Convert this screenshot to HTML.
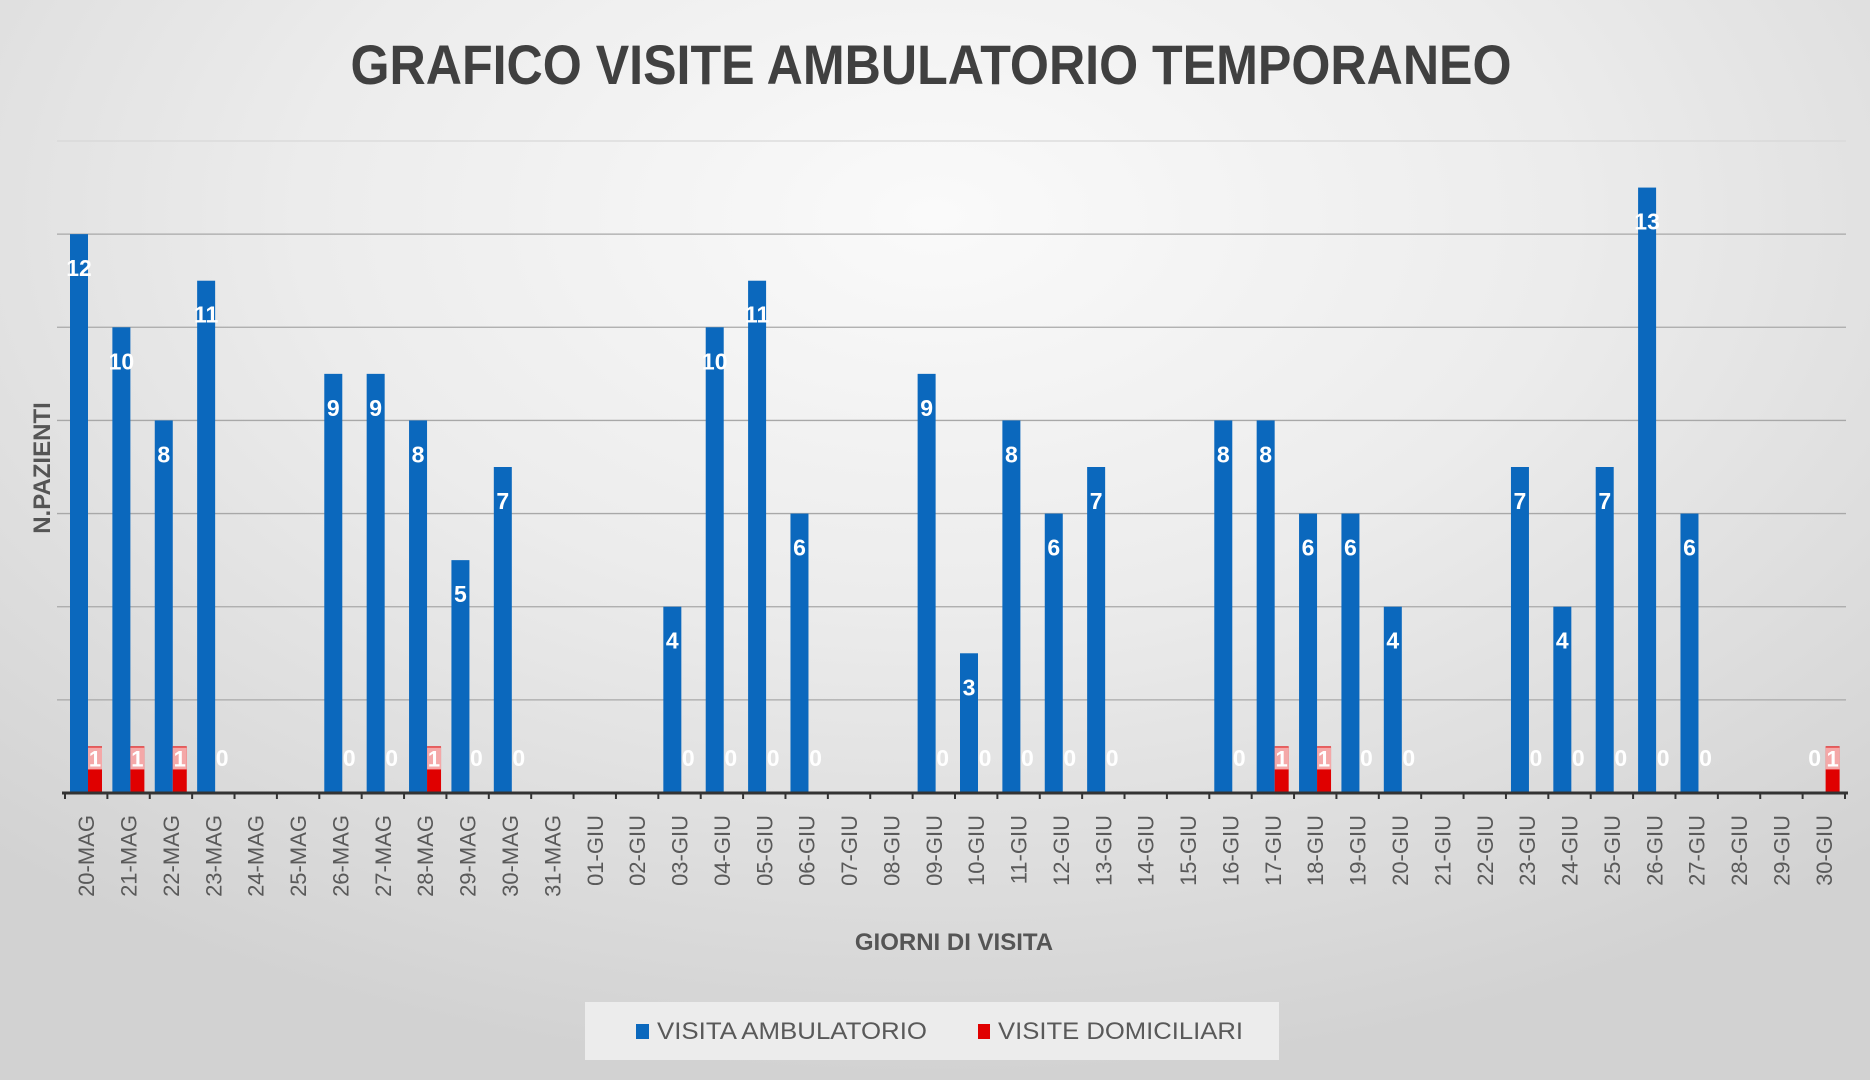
<!DOCTYPE html>
<html><head><meta charset="utf-8"><style>
html,body{margin:0;padding:0;width:1870px;height:1080px;overflow:hidden}
body{background:radial-gradient(ellipse 75% 80% at 50% 20%,#fafafa 0%,#ececec 45%,#d2d2d2 100%);font-family:"Liberation Sans Narrow","Liberation Sans",sans-serif}
svg{position:absolute;left:0;top:0}
</style></head><body>
<svg id="chart" width="1870" height="1080"></svg>
<script>
const categories=["20-MAG","21-MAG","22-MAG","23-MAG","24-MAG","25-MAG","26-MAG","27-MAG","28-MAG","29-MAG","30-MAG","31-MAG","01-GIU","02-GIU","03-GIU","04-GIU","05-GIU","06-GIU","07-GIU","08-GIU","09-GIU","10-GIU","11-GIU","12-GIU","13-GIU","14-GIU","15-GIU","16-GIU","17-GIU","18-GIU","19-GIU","20-GIU","21-GIU","22-GIU","23-GIU","24-GIU","25-GIU","26-GIU","27-GIU","28-GIU","29-GIU","30-GIU"];
const ambulatorio=[12,10,8,11,null,null,9,9,8,5,7,null,null,null,4,10,11,6,null,null,9,3,8,6,7,null,null,8,8,6,6,4,null,null,7,4,7,13,6,null,null,0];
const domiciliari=[1,1,1,0,null,null,0,0,1,0,0,null,null,null,0,0,0,0,null,null,0,0,0,0,0,null,null,0,1,1,0,0,null,null,0,0,0,0,0,null,null,1];
const yTicks=[0,2,4,6,8,10,12,14];
const NS="http://www.w3.org/2000/svg";
const svg=document.getElementById('chart');
const X0=65,X1=1845,Y0=793,YTOP=141,YMAX=14;
const cw=(X1-X0)/categories.length;
function y(v){return Y0-(v/YMAX)*(Y0-YTOP);}
function xc(i){return X0+i*cw;}
function mk(t,a,txt){const e=document.createElementNS(NS,t);for(const k in a)e.setAttribute(k,a[k]);if(txt!==undefined)e.textContent=txt;svg.appendChild(e);return e;}
let e;
e=mk('text',{x:931,y:84,'text-anchor':'middle','font-size':56,'font-weight':'bold',fill:'#404040',textLength:1161,lengthAdjust:'spacingAndGlyphs'},'GRAFICO VISITE AMBULATORIO TEMPORANEO');


yTicks.forEach(t=>{if(t===0)return;
 const l=mk('line',{x1:57,x2:1846,y1:y(t),y2:y(t),stroke:t===14?'#d8d8d8':'#a8a8a8','stroke-width':1.3});
 
 
});
categories.forEach((c,i)=>{
 const b=ambulatorio[i];
 if(b!==null&&b>0){
  const r=mk('rect',{x:xc(i)+5,y:y(b),width:18,height:Y0-y(b),fill:'#0b68bd'});
  
  
  const t=mk('text',{x:xc(i)+14,y:y(b)+42,'text-anchor':'middle','font-size':23,'font-weight':'bold',fill:'#fff'},b);
  
  
 } else if(b===0){
  const t=mk('text',{x:xc(i)+12,y:Y0-27,'text-anchor':'middle','font-size':23,'font-weight':'bold',fill:'#fff'},b);
  
  
 }
 const d=domiciliari[i];
 if(d!==null&&d>0){
  const r=mk('rect',{x:xc(i)+23,y:y(d),width:14,height:Y0-y(d),fill:'#e00000'});
  
  
  const bg=mk('rect',{x:xc(i)+23,y:y(d)+1,width:14,height:22,fill:'#f4a8a8'});
  
  
  const t=mk('text',{x:xc(i)+30,y:y(d)+20,'text-anchor':'middle','font-size':22,'font-weight':'bold',fill:'#fff'},d);
  
  
 } else if(d===0){
  const t=mk('text',{x:xc(i)+30,y:Y0-27,'text-anchor':'middle','font-size':23,'font-weight':'bold',fill:'#fff'},d);
  
  
 }
 const tk=mk('line',{x1:xc(i),x2:xc(i),y1:Y0,y2:Y0+6,stroke:'#333','stroke-width':2});
 
 
 const cx=xc(i)+cw/2+8;
 const lb=mk('text',{x:cx,y:815,transform:`rotate(-90 ${cx} 815)`,'text-anchor':'end','font-size':22,fill:'#595959'},c);
 
 
});
e=mk('line',{x1:X0-3,x2:X1+3,y1:Y0,y2:Y0,stroke:'#333','stroke-width':3});


e=mk('line',{x1:X1,x2:X1,y1:Y0,y2:Y0+6,stroke:'#333','stroke-width':2});


e=mk('text',{x:50,y:468,transform:'rotate(-90 50 468)','text-anchor':'middle','font-size':24,'font-weight':'bold',fill:'#555'},'N.PAZIENTI');


e=mk('text',{x:954,y:950,'text-anchor':'middle','font-size':24,'font-weight':'bold',fill:'#555'},'GIORNI DI VISITA');


e=mk('rect',{x:585,y:1002,width:694,height:58,fill:'#ececec'});


e=mk('rect',{x:636,y:1024,width:13,height:15,fill:'#0b68bd'});


e=mk('text',{x:657,y:1039,'font-size':24,fill:'#595959',textLength:270,lengthAdjust:'spacingAndGlyphs'},'VISITA AMBULATORIO');


e=mk('rect',{x:978,y:1024,width:12,height:15,fill:'#e00000'});


e=mk('text',{x:998,y:1039,'font-size':24,fill:'#595959',textLength:245,lengthAdjust:'spacingAndGlyphs'},'VISITE DOMICILIARI');


</script>
</body></html>
